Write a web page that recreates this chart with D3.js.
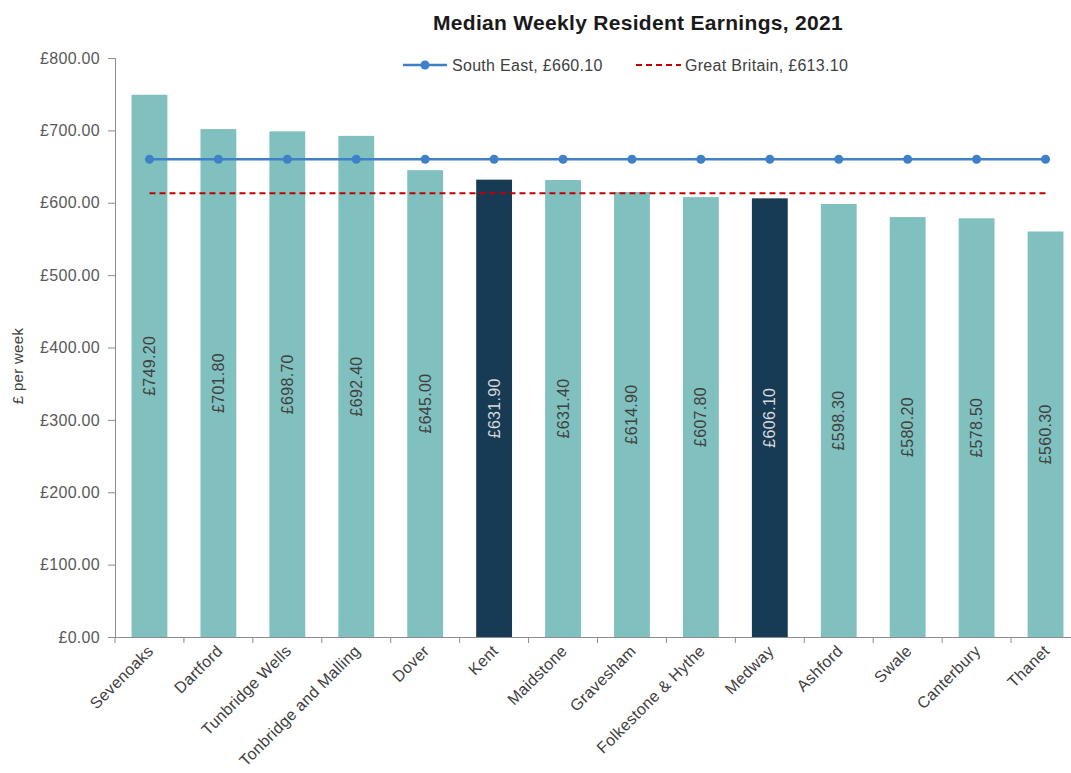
<!doctype html>
<html>
<head>
<meta charset="UTF-8">
<title>Median Weekly Resident Earnings, 2021</title>
<script src="https://d3js.org/d3.v7.min.js"></script>
<style>
  body { margin: 0; background: #ffffff; }
  svg { display: block; font-family: "Liberation Sans", Arial, sans-serif; letter-spacing: 0.3px; }
</style>
</head>
<body>
<script>

// -------------------------------------- data

var areas = ["Sevenoaks", "Dartford", "Tunbridge Wells", "Tonbridge and Malling", "Dover", "Kent",
             "Maidstone", "Gravesham", "Folkestone & Hythe", "Medway", "Ashford", "Swale", "Canterbury", "Thanet"];
var earnings = [749.2, 701.8, 698.7, 692.4, 645.0, 631.9, 631.4, 614.9, 607.8, 606.1, 598.3, 580.2, 578.5, 560.3];
var highlighted = ["Kent", "Medway"];
var southEast = 660.1;
var greatBritain = 613.1;
var yTicks = [0, 100, 200, 300, 400, 500, 600, 700, 800];

// -------------------------------------- colours

var bar_col = "#80c1c0";
var dark_col = "#173a55";
var se_col = "#3f80c8";
var gb_col = "#c00000";
var text_col = "#404040";
var axis_col = "#8c8c8c";

// -------------------------------------- svg

var width = 1071, height = 773;
var svg = d3.select("body").append("svg")
  .attr("width", width)
  .attr("height", height);

var x = d3.scaleBand()
  .domain(areas)
  .range([115, 1080])
  .paddingInner(0.48)
  .paddingOuter(0.24);

var y = d3.scaleLinear()
  .domain([0, 800])
  .range([637, 58]);

var fmt = d3.format(",.2f");

// -------------------------------------- title

svg.append("text")
  .attr("x", 638)
  .attr("y", 30)
  .attr("text-anchor", "middle")
  .style("font-size", "21px")
  .style("font-weight", "bold")
  .style("fill", "#1a1a1a")
  .text("Median Weekly Resident Earnings, 2021");

// -------------------------------------- bars

svg.selectAll("rect.bar")
  .data(areas)
  .enter().append("rect")
  .attr("class", "bar")
  .attr("x", d => x(d))
  .attr("width", x.bandwidth())
  .attr("y", (d, i) => y(earnings[i]))
  .attr("height", (d, i) => y(0) - y(earnings[i]))
  .style("fill", d => highlighted.includes(d) ? dark_col : bar_col);

// value labels, rotated inside bars
svg.selectAll("text.val")
  .data(areas)
  .enter().append("text")
  .attr("class", "val")
  .attr("transform", (d, i) => "translate(" + (x(d) + x.bandwidth() / 2 + 5.5) + "," + ((y(earnings[i]) + y(0)) / 2) + ") rotate(-90)")
  .attr("text-anchor", "middle")
  .style("font-size", "16px")
  .style("fill", d => highlighted.includes(d) ? "#d9d9d9" : text_col)
  .text((d, i) => "£" + fmt(earnings[i]));

// -------------------------------------- reference lines

var first = x(areas[0]) + x.bandwidth() / 2;
var last = x(areas[areas.length - 1]) + x.bandwidth() / 2;

svg.append("line")
  .attr("x1", first).attr("x2", last)
  .attr("y1", y(greatBritain)).attr("y2", y(greatBritain))
  .style("stroke", gb_col)
  .style("stroke-width", 2)
  .style("stroke-dasharray", "6,4");

svg.append("line")
  .attr("x1", first).attr("x2", last)
  .attr("y1", y(southEast)).attr("y2", y(southEast))
  .style("stroke", se_col)
  .style("stroke-width", 2.5);

svg.selectAll("circle.se")
  .data(areas)
  .enter().append("circle")
  .attr("class", "se")
  .attr("cx", d => x(d) + x.bandwidth() / 2)
  .attr("cy", y(southEast))
  .attr("r", 4.5)
  .style("fill", se_col);

// -------------------------------------- axes

var yAxis = svg.append("g")
  .attr("transform", "translate(115,0)")
  .call(d3.axisLeft(y).tickValues(yTicks).tickSize(7).tickPadding(8).tickFormat(d => "£" + fmt(d)));
yAxis.selectAll("text").style("font-size", "16px").style("fill", "#595959");
yAxis.selectAll("line, path").style("stroke", axis_col);

var xAxis = svg.append("g")
  .attr("transform", "translate(0," + y(0) + ")")
  .call(d3.axisBottom(x).tickSize(0).tickFormat(""));
xAxis.selectAll("path").style("stroke", axis_col).attr("d", "M115,0.5H1080");

// category boundary ticks
svg.selectAll("line.xtick")
  .data(areas)
  .enter().append("line")
  .attr("class", "xtick")
  .attr("x1", d => x(d) - x.step() * x.paddingInner() / 2)
  .attr("x2", d => x(d) - x.step() * x.paddingInner() / 2)
  .attr("y1", y(0)).attr("y2", y(0) + 6)
  .style("stroke", axis_col);

svg.selectAll("text.cat")
  .data(areas)
  .enter().append("text")
  .attr("class", "cat")
  .attr("transform", d => "translate(" + (x(d) + x.bandwidth() / 2 + 5) + "," + (y(0) + 15) + ") rotate(-45)")
  .attr("text-anchor", "end")
  .style("font-size", "16px")
  .style("fill", text_col)
  .text(d => d);

// y axis title
svg.append("text")
  .attr("transform", "translate(23,366) rotate(-90)")
  .attr("text-anchor", "middle")
  .style("font-size", "15px")
  .style("fill", text_col)
  .text("£ per week");

// -------------------------------------- legend

var legend = svg.append("g").attr("transform", "translate(0,65)");

legend.append("line")
  .attr("x1", 403).attr("x2", 447).attr("y1", 0).attr("y2", 0)
  .style("stroke", se_col).style("stroke-width", 2.5);
legend.append("circle")
  .attr("cx", 425).attr("cy", 0).attr("r", 4.5)
  .style("fill", se_col);
legend.append("text")
  .attr("x", 452).attr("y", 6)
  .style("font-size", "16px").style("fill", text_col)
  .text("South East, £" + fmt(southEast));

legend.append("line")
  .attr("x1", 636).attr("x2", 681).attr("y1", 0).attr("y2", 0)
  .style("stroke", gb_col).style("stroke-width", 2)
  .style("stroke-dasharray", "6,4");
legend.append("text")
  .attr("x", 685).attr("y", 6)
  .style("font-size", "16px").style("fill", text_col)
  .text("Great Britain, £" + fmt(greatBritain));

// source, clipped at bottom edge
svg.append("text")
  .attr("x", 958).attr("y", 784)
  .style("font-size", "15px").style("fill", text_col)
  .text("Source: Annual Survey of Hours and Earnings");

</script>
</body>
</html>
